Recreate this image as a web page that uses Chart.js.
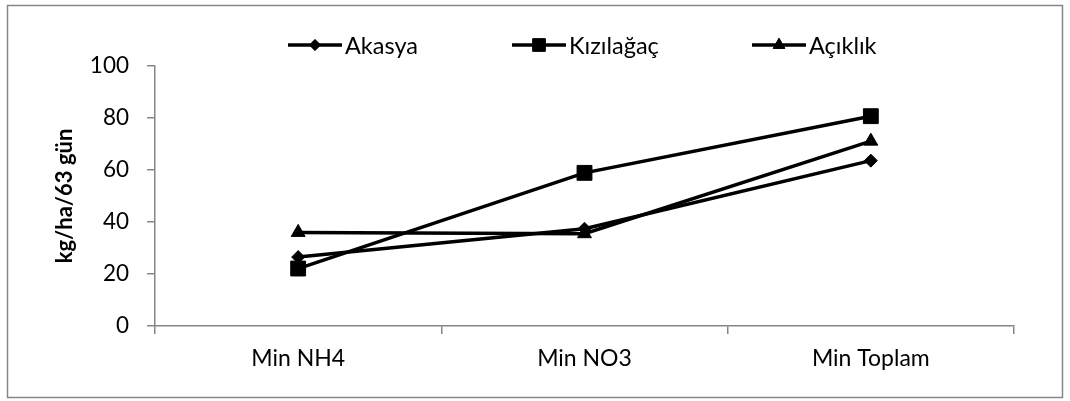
<!DOCTYPE html>
<html>
<head>
<meta charset="utf-8">
<script src="https://cdn.jsdelivr.net/npm/chart.js@4"></script>
<style>
  html, body { margin: 0; padding: 0; background: #fff; }
  #wrap { width: 1070px; height: 401px; }
</style>
</head>
<body>
<div id="wrap"><canvas id="chart" width="1070" height="401"></canvas></div>
<script>
const categories = ['Min NH4', 'Min NO3', 'Min Toplam'];
const akasya = [26.5, 37.4, 63.6];
const kizilagac = [22.1, 58.9, 80.7];
const aciklik = [36.0, 35.5, 71.1];
const yTicks = [0, 20, 40, 60, 80, 100];
const yTitle = 'kg/ha/63 gün';

const axisGray = '#868686';
const fontFam = 'Lato, "Liberation Sans", sans-serif';

const data = {
  labels: categories,
  datasets: [{
    label: 'Akasya',
    data: akasya,
    pointStyle: 'rectRot',
    pointRadius: 6.5,
  },
  {
    label: 'Kızılağaç',
    data: kizilagac,
    pointStyle: 'rect',
    pointRadius: 10.5,
  },
  {
    label: 'Açıklık',
    data: aciklik,
    pointStyle: 'triangle',
    pointRadius: 8,
  }]
};

data.datasets.forEach(function (ds) {
  ds.borderColor = '#000';
  ds.backgroundColor = '#000';
  ds.borderWidth = 3.5;
  ds.pointBackgroundColor = '#000';
  ds.pointBorderColor = '#000';
  ds.pointBorderWidth = 1;
  ds.tension = 0;
});

// frame round the whole picture + legend with line and marker
const framePlugin = {
  id: 'frame',
  beforeDraw(chart) {
    const ctx = chart.ctx;
    ctx.save();
    ctx.fillStyle = '#fff';
    ctx.fillRect(0, 0, chart.width, chart.height);
    ctx.strokeStyle = axisGray;
    ctx.lineWidth = 1.5;
    ctx.strokeRect(7.5, 5.5, 1055, 392);
    ctx.restore();
  },
  afterDraw(chart) {
    const ctx = chart.ctx;
    const starts = [288, 512, 752];
    const y = 45;
    ctx.save();
    chart.data.datasets.forEach(function (ds, i) {
      const x0 = starts[i];
      ctx.strokeStyle = '#000';
      ctx.lineWidth = 3.5;
      ctx.beginPath();
      ctx.moveTo(x0, y);
      ctx.lineTo(x0 + 54, y);
      ctx.stroke();
      ctx.fillStyle = '#000';
      ctx.lineWidth = 1;
      Chart.helpers.drawPoint(ctx, { pointStyle: ds.pointStyle, radius: ds.pointRadius * 0.85, rotation: 0, borderWidth: 1 }, x0 + 27, y);
      ctx.fill();
      ctx.font = '23.5px ' + fontFam;
      ctx.textBaseline = 'middle';
      ctx.textAlign = 'left';
      ctx.fillText(ds.label, x0 + 57, y + 1);
    });
    ctx.restore();
  }
};

const config = {
  type: 'line',
  data: data,
  plugins: [framePlugin],
  options: {
    responsive: false,
    animation: false,
    layout: {
      padding: { left: 50, top: 66, right: 56, bottom: 10 }
    },
    plugins: {
      legend: { display: false },
      tooltip: { enabled: false },
    },
    scales: {
      x: {
        offset: true,
        afterFit(scale) { scale.height = 65; },
        grid: {
          offset: true,
          drawOnChartArea: false,
          drawTicks: true,
          tickLength: 8,
          color: axisGray,
          lineWidth: 1.5,
        },
        border: { color: axisGray, width: 1.5 },
        ticks: {
          color: '#000',
          padding: 11,
          maxRotation: 0,
          font: { family: fontFam, size: 23 },
        },
      },
      y: {
        min: 0,
        max: 100,
        afterFit(scale) { scale.width = 105; },
        afterBuildTicks(scale) { scale.ticks = yTicks.map(v => ({ value: v })); },
        grid: {
          drawOnChartArea: false,
          drawTicks: true,
          tickLength: 8,
          color: axisGray,
          lineWidth: 1.5,
        },
        border: { color: axisGray, width: 1.5 },
        ticks: {
          color: '#000',
          padding: 18,
          font: { family: fontFam, size: 22.5 },
        },
        title: {
          display: true,
          text: yTitle,
          color: '#000',
          font: { family: fontFam, size: 22, weight: 'bold' },
          padding: { top: 2, bottom: 4 },
        },
      },
    },
  },
};

const ctx = document.getElementById('chart').getContext('2d');
const chart = new Chart(ctx, config);
</script>
</body>
</html>
